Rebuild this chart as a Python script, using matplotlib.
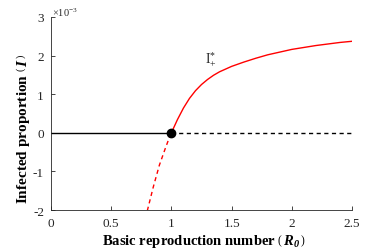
import numpy as np
import matplotlib
matplotlib.use("Agg")
import matplotlib.pyplot as plt

plt.rcParams['font.family'] = ['Liberation Serif', 'DejaVu Serif']
plt.rcParams['mathtext.fontset'] = 'custom'
plt.rcParams['mathtext.rm'] = 'Liberation Serif'
plt.rcParams['mathtext.it'] = 'Liberation Serif:italic'
plt.rcParams['mathtext.bf'] = 'Liberation Serif:bold'
plt.rcParams['mathtext.bfit'] = 'Liberation Serif:italic:bold'

# values (I in units of 1e-3)
r0_upper = [1.0, 1.05, 1.1, 1.15, 1.2, 1.25, 1.3, 1.35, 1.4, 1.45, 1.5, 1.6, 1.7, 1.8, 1.9, 2.0, 2.1, 2.2, 2.3, 2.4, 2.5]
i_upper = [0.0, 0.34, 0.64, 0.89, 1.09, 1.25, 1.38, 1.49, 1.58, 1.65, 1.72, 1.83, 1.93, 2.02, 2.09, 2.16, 2.21, 2.26, 2.30, 2.34, 2.37]
r0_lower = [0.8, 0.85, 0.9, 0.95, 0.975, 1.0]
i_lower = [-2.02, -1.40, -0.84, -0.40, -0.19, 0.0]
r0_stable = [0.0, 1.0]
r0_unstable = [1.0, 2.5]
xticks = [0, 0.5, 1, 1.5, 2, 2.5]
xtick_labels = ['0', '0.5', '1', '1.5', '2', '2.5']
yticks = [-2, -1, 0, 1, 2, 3]
ytick_labels = ['-2', '-1', '0', '1', '2', '3']

fig = plt.figure(figsize=(3.89, 2.53), dpi=100)
ax = fig.add_axes([0.131, 0.166, 0.774, 0.763])

ax.plot(r0_stable, [0, 0], color='black', lw=1.0)
ax.plot(r0_unstable, [0, 0], color='black', lw=1.0, ls=(0, (3, 2.5)))
ax.plot(r0_upper, i_upper, color='red', lw=1.0)
ax.plot(r0_lower, i_lower, color='red', lw=1.0, ls=(0, (3, 2.5)))
ax.plot([1.0], [0.0], 'o', color='black', ms=6, zorder=5)

ax.set_xlim(0, 2.5)
ax.set_ylim(-2, 3)
ax.set_xticks(xticks)
ax.set_xticklabels(xtick_labels)
ax.set_yticks(yticks)
ax.set_yticklabels(ytick_labels)
ax.tick_params(direction='in', length=3, width=0.6, labelsize=9.5, colors='#262626', pad=5)
for side in ['top', 'right']:
    ax.spines[side].set_visible(False)
for side in ['left', 'bottom']:
    ax.spines[side].set_linewidth(0.6)
    ax.spines[side].set_color('#262626')

ax.text(0.005, 0.995, r'$\times10^{-3}$', transform=ax.transAxes, fontsize=7.5, color='#262626',
        ha='left', va='bottom')
ax.text(1.33, 1.96, r'$\mathrm{I}_{+}^{*}$', fontsize=10, color='#262626', ha='center', va='center')

fig.text(0.524, 0.045, r'Basic reproduction number $\left(\,\mathbfit{R_{0}}\,\right)$', fontsize=10.5,
         fontweight='bold', ha='center', va='center')
fig.text(0.058, 0.49, r'Infected proportion $\left(\,\mathbfit{I}\,\right)$', fontsize=11,
         fontweight='bold', ha='center', va='center', rotation=90)

fig.savefig('out.png', dpi=100)
